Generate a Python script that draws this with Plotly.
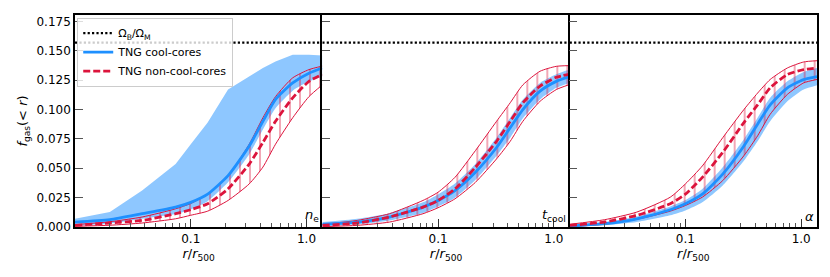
import numpy as np
import plotly.graph_objects as go
from plotly.subplots import make_subplots

# radius grid r/r500
radius = [0.01, 0.02, 0.038, 0.074, 0.1, 0.14, 0.21, 0.32, 0.42, 0.54, 0.76, 1.05, 1.37]

# panel labels
panel_labels = ["<i>n</i><sub>e</sub>", "<i>t</i><sub>cool</sub>", "<i>α</i>"]

omega_ratio = 0.157

# ---- panel 1 (n_e split) ----
cc_med_1 = [0.0042, 0.0062, 0.0113, 0.0169, 0.021, 0.028, 0.0437, 0.069, 0.090, 0.1086, 0.1227, 0.131, 0.1354]
cc_hi_1 = [0.007, 0.0127, 0.031, 0.0536, 0.0705, 0.089, 0.117, 0.128, 0.1354, 0.141, 0.1467, 0.1467, 0.146]
cc_lo_1 = [0.001, 0.003, 0.007, 0.011, 0.015, 0.022, 0.038, 0.062, 0.083, 0.101, 0.116, 0.124, 0.128]
ncc_med_1 = [0.0014, 0.0034, 0.0056, 0.0113, 0.0147, 0.0198, 0.0325, 0.0536, 0.072, 0.090, 0.110, 0.124, 0.130]
ncc_hi_1 = [0.002, 0.0045, 0.0085, 0.0155, 0.020, 0.028, 0.0437, 0.0705, 0.093, 0.111, 0.127, 0.134, 0.137]
ncc_lo_1 = [0.0006, 0.0015, 0.0034, 0.007, 0.010, 0.0135, 0.0226, 0.0367, 0.051, 0.0705, 0.093, 0.111, 0.121]

# ---- panel 2 (t_cool split) ----
cc_med_2 = [0.0023, 0.0042, 0.0085, 0.0169, 0.0226, 0.031, 0.0466, 0.0677, 0.0846, 0.100, 0.1157, 0.124, 0.128]
cc_hi_2 = [0.0042, 0.007, 0.0118, 0.021, 0.0277, 0.037, 0.0536, 0.076, 0.093, 0.1086, 0.1227, 0.130, 0.134]
cc_lo_2 = [0.0008, 0.0023, 0.0056, 0.012, 0.0175, 0.025, 0.040, 0.0607, 0.076, 0.0925, 0.1086, 0.1185, 0.1227]
ncc_med_2 = [0.0014, 0.0034, 0.0085, 0.0169, 0.0226, 0.0324, 0.0508, 0.073, 0.090, 0.1058, 0.120, 0.1275, 0.130]
ncc_hi_2 = [0.0023, 0.0056, 0.0113, 0.0226, 0.0296, 0.0423, 0.065, 0.090, 0.1058, 0.121, 0.1326, 0.1368, 0.1374]
ncc_lo_2 = [0.0003, 0.0014, 0.0042, 0.0113, 0.0164, 0.024, 0.038, 0.058, 0.073, 0.090, 0.107, 0.117, 0.1213]

# ---- panel 3 (alpha split) ----
cc_med_3 = [0.0008, 0.0028, 0.007, 0.0147, 0.0198, 0.028, 0.045, 0.069, 0.0875, 0.104, 0.1185, 0.1255, 0.128]
cc_hi_3 = [0.0023, 0.0042, 0.009, 0.0175, 0.023, 0.0324, 0.0508, 0.0748, 0.093, 0.110, 0.124, 0.132, 0.1354]
cc_lo_3 = [0.0003, 0.0014, 0.0042, 0.0099, 0.014, 0.021, 0.0353, 0.0564, 0.073, 0.090, 0.107, 0.117, 0.1207]
ncc_med_3 = [0.0014, 0.0042, 0.0099, 0.0198, 0.028, 0.0423, 0.0635, 0.0889, 0.104, 0.1185, 0.1298, 0.134, 0.1354]
ncc_hi_3 = [0.0023, 0.0062, 0.0127, 0.0254, 0.0367, 0.052, 0.076, 0.100, 0.114, 0.1256, 0.1354, 0.1405, 0.1416]
ncc_lo_3 = [0.0003, 0.0023, 0.0065, 0.0135, 0.0183, 0.0254, 0.0395, 0.0607, 0.0776, 0.096, 0.1129, 0.1227, 0.1256]

panels = [
    (cc_med_1, cc_lo_1, cc_hi_1, ncc_med_1, ncc_lo_1, ncc_hi_1),
    (cc_med_2, cc_lo_2, cc_hi_2, ncc_med_2, ncc_lo_2, ncc_hi_2),
    (cc_med_3, cc_lo_3, cc_hi_3, ncc_med_3, ncc_lo_3, ncc_hi_3),
]

x_tickvals = [0.1, 1.0]
x_ticktext = ["0.1", "1.0"]
x_minor = [0.02, 0.03, 0.04, 0.05, 0.06, 0.07, 0.08, 0.09,
           0.2, 0.3, 0.4, 0.5, 0.6, 0.7, 0.8, 0.9]
y_tickvals = [0.0, 0.025, 0.05, 0.075, 0.1, 0.125, 0.15, 0.175]

BLUE = "rgb(30,144,255)"
BLUE_FILL = "rgb(142,199,255)"
RED = "rgb(220,20,60)"
FONT = "DejaVu Sans"
SMOOTH = dict(shape="spline", smoothing=0.6)

fig = make_subplots(rows=1, cols=3, shared_yaxes=True, horizontal_spacing=0)

for i, (ccm, ccl, cch, nm, nl, nh) in enumerate(panels):
    col = i + 1
    first = i == 0
    # Omega_B / Omega_M line
    fig.add_trace(go.Scatter(x=[radius[0], radius[-1]], y=[omega_ratio, omega_ratio],
                             mode="lines", line=dict(color="black", width=2.2, dash="2.2px,2.2px"),
                             name="Ω<sub>B</sub>/Ω<sub>M</sub>", showlegend=first,
                             legendrank=1), row=1, col=col)
    # cool-core band
    hi_shape = dict(shape="linear") if first else SMOOTH
    fig.add_trace(go.Scatter(x=radius, y=ccl, mode="lines", line=dict(width=0, **SMOOTH),
                             showlegend=False, hoverinfo="skip"), row=1, col=col)
    fig.add_trace(go.Scatter(x=radius, y=cch, mode="lines", line=dict(width=0, **hi_shape),
                             fill="tonexty", fillcolor=BLUE_FILL,
                             showlegend=False, hoverinfo="skip"), row=1, col=col)
    # non-cool-core hatched band
    fig.add_trace(go.Scatter(x=radius, y=nl, mode="lines", line=dict(width=1, color=RED, **SMOOTH),
                             showlegend=False, hoverinfo="skip"), row=1, col=col)
    fig.add_trace(go.Scatter(x=radius, y=nh, mode="lines", line=dict(width=1, color=RED, **SMOOTH),
                             fill="tonexty", fillcolor="rgba(0,0,0,0)",
                             fillpattern=dict(shape="|", fgcolor=RED, bgcolor="rgba(0,0,0,0)",
                                              size=10, solidity=0.15, fillmode="overlay"),
                             showlegend=False, hoverinfo="skip"), row=1, col=col)
    # medians
    fig.add_trace(go.Scatter(x=radius, y=ccm, mode="lines", line=dict(color=BLUE, width=2.8, **SMOOTH),
                             name="TNG cool-cores", showlegend=first, legendrank=2),
                  row=1, col=col)
    fig.add_trace(go.Scatter(x=radius, y=nm, mode="lines",
                             line=dict(color=RED, width=2.8, dash="7px,3px", **SMOOTH),
                             name="TNG non-cool-cores", showlegend=first, legendrank=3),
                  row=1, col=col)

    fig.update_xaxes(type="log", range=[np.log10(radius[0]), np.log10(radius[-1])],
                     tickmode="array", tickvals=x_tickvals, ticktext=x_ticktext,
                     ticks="inside", ticklen=8, tickwidth=1, tickcolor="#333",
                     minor=dict(ticks="inside", ticklen=4, tickwidth=0.8, tickcolor="#555",
                                tickvals=x_minor),
                     showline=True, linecolor="black", linewidth=1.5, mirror=True,
                     showgrid=False, zeroline=False,
                     tickfont=dict(family=FONT, size=12, color="black"),
                     title=dict(text="<i>r</i>/<i>r</i><sub>500</sub>",
                                font=dict(family=FONT, size=13, color="black"), standoff=4),
                     row=1, col=col)
    fig.update_yaxes(range=[0, 0.1805], tickmode="array", tickvals=y_tickvals,
                     tickformat=".3f", ticks="inside", ticklen=8, tickwidth=1, tickcolor="#555",
                     showline=True, linecolor="black", linewidth=1.6, mirror=(col == 3),
                     showgrid=False, zeroline=False, showticklabels=first,
                     tickfont=dict(family=FONT, size=12, color="black"),
                     row=1, col=col)
    fig.add_annotation(text=panel_labels[i], xref=f"x{'' if col == 1 else col} domain",
                       yref=f"y{'' if col == 1 else col} domain", x=0.995, y=0.005,
                       xanchor="right", yanchor="bottom", showarrow=False,
                       font=dict(family=FONT, size=13, color="black"))

fig.update_yaxes(title=dict(text="<i>f</i><sub>gas</sub>(< <i>r</i>)",
                            font=dict(family=FONT, size=13, color="black"), standoff=6),
                 row=1, col=1)

# page body adds an 8px offset; size figure so the plot area lands like the reference
fig.update_layout(
    width=822, height=269,
    margin=dict(l=67, r=13, t=5, b=50),
    paper_bgcolor="white", plot_bgcolor="white",
    font=dict(family=FONT, size=12, color="black"),
    legend=dict(x=0.003, y=0.988, xanchor="left", yanchor="top", traceorder="normal",
                bgcolor="rgba(255,255,255,0.8)", bordercolor="#cccccc", borderwidth=1,
                font=dict(family=FONT, size=11, color="black"),
                tracegroupgap=0, itemwidth=30),
    showlegend=True,
)

fig.write_html("out.html")
